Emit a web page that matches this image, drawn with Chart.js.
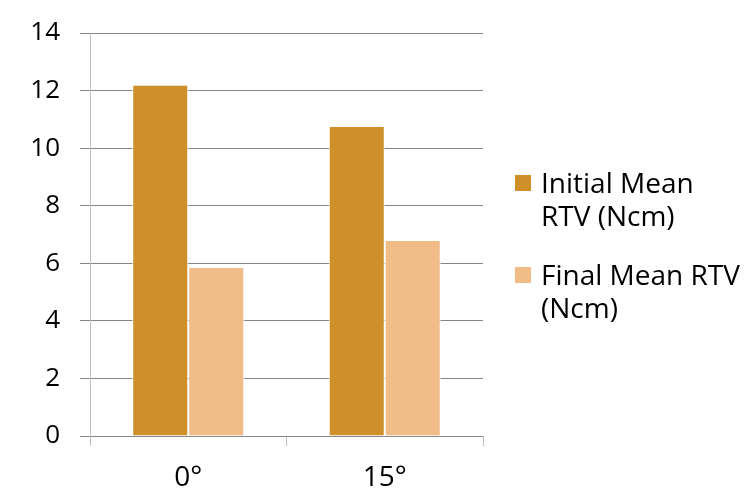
<!DOCTYPE html>
<html>
<head>
<meta charset="utf-8">
<script src="https://cdn.jsdelivr.net/npm/chart.js@4"></script>
<style>
  html, body { margin: 0; padding: 0; background: #fff; }
  #wrap { position: relative; width: 750px; height: 493px; }
  #legend { position: absolute; left: 515px; top: 166px; font-family: "Open Sans", sans-serif; font-size: 28px; color: #000; }
  #legend .item { position: relative; padding-left: 26px; line-height: 33px; margin-bottom: 26px; white-space: nowrap; }
  #legend .box { position: absolute; left: 0; top: 9px; width: 16px; height: 16px; }
</style>
</head>
<body>
<div id="wrap">
  <canvas id="chart" width="750" height="493"></canvas>
  <div id="legend"></div>
</div>
<script>
const categories = ["0°", "15°"];
const initialMean = [12.2, 10.77];
const finalMean = [5.87, 6.81];
const seriesNames = [["Initial Mean", "RTV (Ncm)"], ["Final Mean RTV", "(Ncm)"]];
const seriesColors = ["#D09029", "#F0BC88"];

const gridGray = "#868686";
const axisGray = "#bfbfbf";

const chart = new Chart(document.getElementById("chart"), {
    type: "bar",
    data: {
        labels: categories,
        datasets: [
            { data: initialMean, backgroundColor: seriesColors[0], borderColor: "#ffffff", borderWidth: 1 },
            { data: finalMean, backgroundColor: seriesColors[1], borderColor: "#ffffff", borderWidth: 1 }
        ]
    },
    options: {
        responsive: false,
        animation: false,
        layout: { padding: { top: 33, right: 267, left: 0, bottom: 0 } },
        plugins: { legend: { display: false }, tooltip: { enabled: false } },
        datasets: { bar: { categoryPercentage: 0.57, barPercentage: 1 } },
        scales: {
            x: {
                grid: { display: true, drawOnChartArea: false, drawTicks: true, tickLength: 10, color: axisGray, offset: true },
                border: { display: false },
                ticks: { font: { family: "'Open Sans', sans-serif", size: 28 }, color: "#000", padding: 15 },
                afterFit: s => { s.height = 57; s.paddingLeft = 0; s.paddingRight = 0; }
            },
            y: {
                min: 0, max: 14,
                ticks: { stepSize: 2, font: { family: "'Open Sans', sans-serif", size: 26 }, color: "#000", padding: 20 },
                grid: { color: gridGray, tickLength: 10, drawTicks: true },
                border: { display: true, color: axisGray, width: 1 },
                afterFit: s => { s.width = 90; s.paddingTop = 0; s.paddingBottom = 0; }
            }
        }
    }
});

// legend built from the datasets
const legend = document.getElementById("legend");
chart.data.datasets.forEach((ds, i) => {
    const item = document.createElement("div");
    item.className = "item";
    item.innerHTML = `<span class="box" style="background:${ds.backgroundColor}"></span>${seriesNames[i].join("<br>")}`;
    legend.appendChild(item);
});
</script>
</body>
</html>
